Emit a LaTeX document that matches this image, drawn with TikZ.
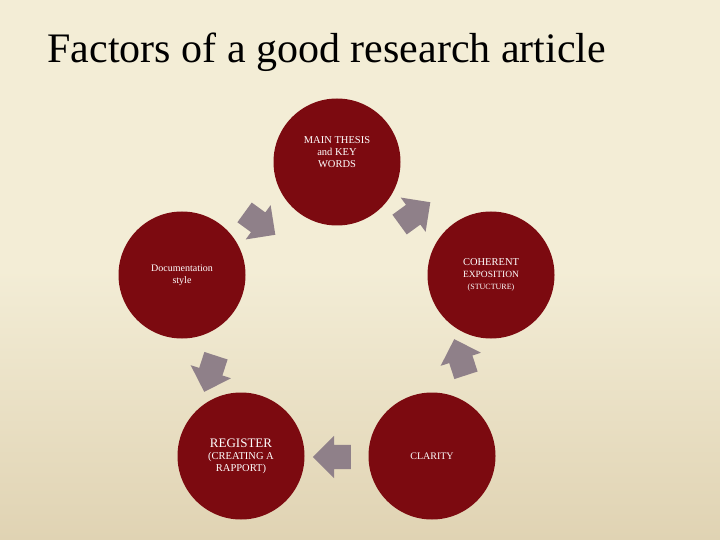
\documentclass[tikz,border=0pt]{standalone}
\usepackage{fontspec}
\setmainfont{Liberation Serif}
\usetikzlibrary{shapes.arrows}
\definecolor{bgtop}{HTML}{F3EDD6}
\definecolor{bgbot}{HTML}{E0D3B3}
\definecolor{circ}{HTML}{7C0A10}
\definecolor{arr}{HTML}{8F8089}
\tikzset{
  bub/.style={circle,fill=circ,minimum size=127pt,inner sep=0pt,text=white,align=center,font=\fontsize{10.5}{12}\selectfont},
  blk/.style={single arrow,fill=arr,draw=none,inner xsep=0pt,inner ysep=12pt,text width=0pt,minimum height=38pt,single arrow head extend=9pt}
}
\begin{document}
\begin{tikzpicture}[x=1pt,y=-1pt]
\shade[top color=bgtop,bottom color=bgbot,middle color=bgtop] (0,0) rectangle (720,540);
\useasboundingbox (0,0) rectangle (720,540);
\node[anchor=west,font=\fontsize{42}{44}\selectfont] (title) at (44,52) {Factors of a good research article};
\node[bub] (a) at (337,162) {\raisebox{3.2em}{\parbox{80pt}{\centering MAIN THESIS\\and KEY\\WORDS}}};
\node[bub] (b) at (491,275) {COHERENT\\{\fontsize{9.5}{11}\selectfont EXPOSITION}\\{\fontsize{8}{10}\selectfont (STUCTURE)}};
\node[bub] (c) at (432,456) {{\fontsize{10}{11}\selectfont CLARITY}};
\node[bub] (d) at (241,456) {\fontsize{13}{15}\selectfont REGISTER\\(CREATING A\\RAPPORT)};
\node[bub] (e) at (182,275) {{\fontsize{10}{11}\selectfont Documentation}\\{\fontsize{10}{11}\selectfont style}};
\node[blk,rotate=36] (ab) at (410,217) {};
\node[blk,rotate=108] (bc) at (462,363) {};
\node[blk,rotate=180] (cd) at (338,457) {};
\node[blk,rotate=-108] (de) at (212,368) {};
\node[blk,rotate=-36] (ea) at (255,220) {};
\end{tikzpicture}
\end{document}
